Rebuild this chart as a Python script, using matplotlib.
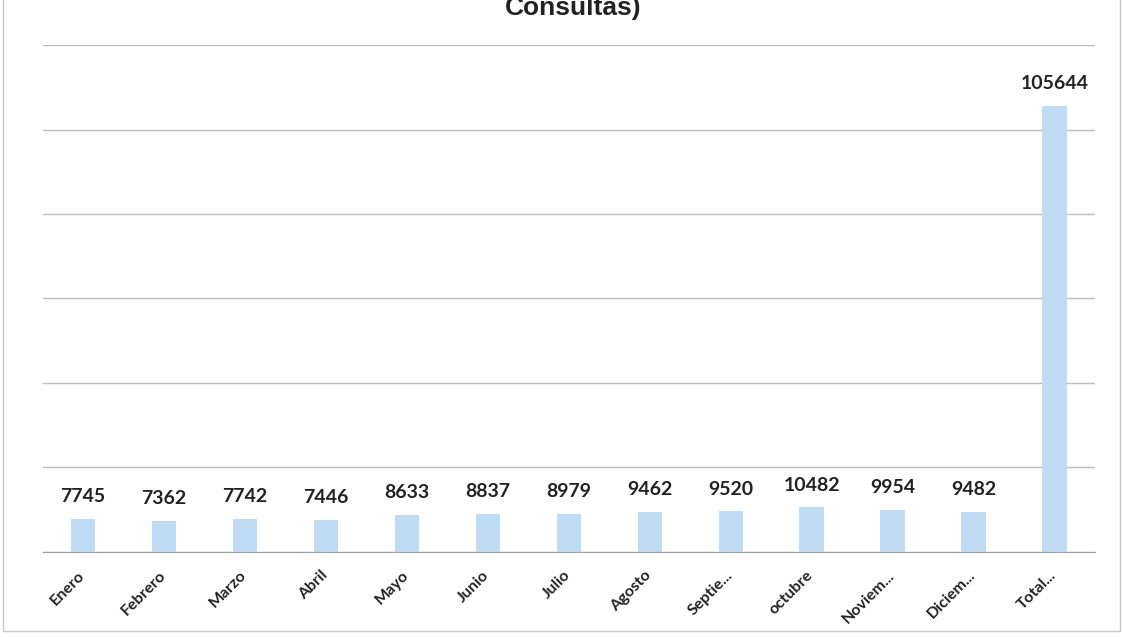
import matplotlib.pyplot as plt
from matplotlib.patches import Rectangle
from matplotlib.transforms import ScaledTranslation
import numpy as np

meses = ["Enero", "Febrero", "Marzo", "Abril", "Mayo", "Junio", "Julio",
         "Agosto", "Septie...", "octubre", "Noviem...", "Diciem...", "Total..."]
consultas = [7745, 7362, 7742, 7446, 8633, 8837, 8979, 9462, 9520, 10482,
             9954, 9482, 105644]


def main():
	fig = plt.figure(figsize=(11.23, 6.37), dpi=100)
	ax = fig.add_axes([0.038, 0.134, 0.937, 0.795])

	x = np.arange(len(meses))
	bars = ax.bar(x, consultas, width=0.3, color="#bfdcf4", zorder=2)
	for b, v in zip(bars, consultas):
		ax.annotate(str(v), (b.get_x() + b.get_width() / 2, v),
			xytext=(0, 10), textcoords="offset points", ha="center", va="bottom",
			fontsize=14, family="Lato", fontweight="bold", color="#222222")

	ax.set_ylim(0, 120000)
	ax.set_xlim(-0.5, len(meses) - 0.5)
	ax.set_yticks(np.arange(0, 120001, 20000))
	ax.yaxis.grid(True, color="#bdbdbd", linewidth=1.0, zorder=0)
	ax.tick_params(axis="y", left=False, labelleft=False)
	ax.tick_params(axis="x", length=0, pad=12)
	ax.set_xticks(x)
	ax.set_xticklabels(meses, rotation=45, ha="right", rotation_mode="anchor",
		fontsize=11.5, family="Lato", fontweight="bold", color="#222222")
	shift = ScaledTranslation(-4 / 72, 0, fig.dpi_scale_trans)
	for lbl in ax.get_xticklabels():
		lbl.set_transform(lbl.get_transform() + shift)
	for s in ["left", "right", "top"]:
		ax.spines[s].set_visible(False)
	ax.spines["bottom"].set_color("#a0a0a0")

	fig.text(0.51, 0.9765, "Consultas)", ha="center", va="baseline",
		fontsize=19, fontweight="bold", family="Liberation Sans", color="#222222")
	fig.patches.append(Rectangle((0.003, 0.01), 0.994, 1.2, transform=fig.transFigure,
		fill=False, edgecolor="#c8c8c8", linewidth=1))

	plt.savefig("out.png", dpi=100)


if __name__ == "__main__":
	main()
